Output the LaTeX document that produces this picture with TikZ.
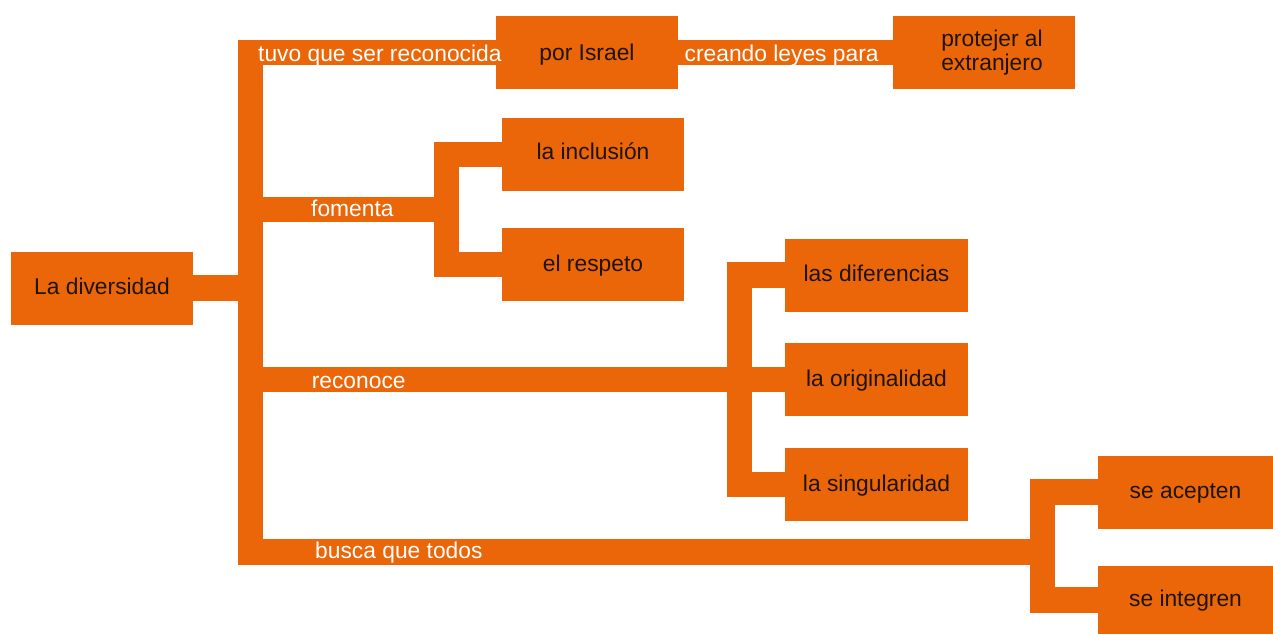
\documentclass[tikz,border=0pt]{standalone}
\usepackage{fontspec}
\setmainfont{Liberation Sans}
\definecolor{dorange}{RGB}{234,102,8}
\definecolor{dtext}{RGB}{30,20,10}
\tikzset{
  boxbase/.style={fill=dorange, minimum width=182pt, minimum height=73pt, inner sep=0pt,
    text=dtext, font=\fontsize{22.8}{23.5}\selectfont},
  cbox/.style={boxbase, text height=16.5pt, text depth=3.5pt},
  conn/.style={draw=dorange, line width=25.5pt, line join=miter, line cap=butt},
  lab/.style={text=white, inner sep=0pt, anchor=base west, font=\fontsize{22.8}{22.6}\selectfont}
}
\begin{document}
\begin{tikzpicture}[x=1pt,y=-1pt]
\useasboundingbox (0,0) rectangle (1273,634);
% boxes
\node[cbox] (root) at (102,288) {La diversidad};
\node[cbox, text depth=0.5pt] (por) at (587,52.5) {por Israel};
\node[boxbase, align=left] (prot) at (984,52.5) {\hspace*{16pt}protejer al\\\hspace*{16pt}extranjero};
\node[cbox, text depth=7pt] (incl) at (593,154.5) {la inclusión};
\node[cbox] (resp) at (593,264.5) {el respeto};
\node[cbox, minimum width=183pt] (dif) at (876.5,275) {las diferencias};
\node[cbox, minimum width=183pt] (orig) at (876.5,379.5) {la originalidad};
\node[cbox, minimum width=183pt] (sing) at (876.5,484.5) {la singularidad};
\node[cbox, minimum width=175pt] (acep) at (1185.5,492) {se acepten};
\node[cbox, minimum width=175pt, minimum height=68pt] (integ) at (1185.5,600) {se integren};
% junction points
\coordinate (T) at (250.5,288);
\coordinate (F) at (446.5,209.7);
\coordinate (R) at (739.7,379.5);
\coordinate (B) at (1042.5,552.2);
% connectors
\draw[conn] (root.east) -- (T) |- (por.west);
\draw[conn] (por.east) -- (prot.west);
\draw[conn] (root.east) -- (T) |- (F);
\draw[conn] (incl.west) -| (F) |- (resp.west);
\draw[conn] (root.east) -- (T) |- (orig.west);
\draw[conn] (dif.west) -| (R) |- (sing.west);
\draw[conn] (root.east) -- (T) |- (B);
\draw[conn] (acep.west) -| (B) |- (integ.west);
% labels
\node[lab] (l1) at (258,61.7) {tuvo que ser reconocida};
\node[lab] (l2) at (684.5,61.7) {creando leyes para};
\node[lab] (l3) at (311,216.7) {fomenta};
\node[lab] (l4) at (311.6,388) {reconoce};
\node[lab] (l5) at (315,558) {busca que todos};
\end{tikzpicture}
\end{document}
